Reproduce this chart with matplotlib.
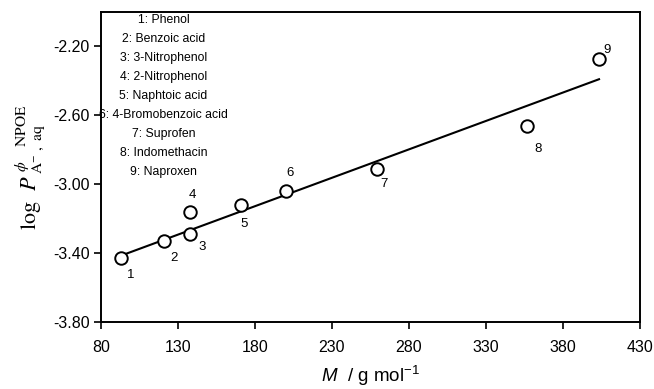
import matplotlib
matplotlib.use("Agg")
import matplotlib.pyplot as plt

# Data
labels = ['1', '2', '3', '4', '5', '6', '7', '8', '9']
mass = [93.0, 120.9, 137.8, 137.8, 170.9, 200.1, 259.2, 356.6, 403.4]
logp = [-3.43, -3.33, -3.29, -3.16, -3.12, -3.04, -2.91, -2.66, -2.275]
fit_x = [95.6, 403.4]
fit_y = [-3.406, -2.39]
compounds = ['1: Phenol', '2: Benzoic acid', '3: 3-Nitrophenol', '4: 2-Nitrophenol',
             '5: Naphtoic acid', '6: 4-Bromobenzoic acid', '7: Suprofen',
             '8: Indomethacin', '9: Naproxen']
xticks = [80, 130, 180, 230, 280, 330, 380, 430]
yticks = [-3.80, -3.40, -3.00, -2.60, -2.20]

# label offsets in points (dx, dy)
offsets = [(7, -12), (7, -12), (9, -9), (2, 12), (2, -14), (3, 13), (5, -11), (8, -17), (6, 7)]

plt.rcParams['font.family'] = ['Liberation Sans', 'DejaVu Sans']
plt.rcParams['mathtext.fontset'] = 'custom'
plt.rcParams['mathtext.rm'] = 'Liberation Sans'
plt.rcParams['mathtext.it'] = 'Liberation Sans:italic'

fig = plt.figure(figsize=(6.54, 3.89), dpi=100)
ax = fig.add_axes([0.1544, 0.1722, 0.8242, 0.7968])

ax.plot(fit_x, fit_y, color='black', lw=1.5, zorder=2)
ax.plot(mass, logp, 'o', mfc='white', mec='black', mew=1.4, ms=9, zorder=3)
for lab, x, y, (dx, dy) in zip(labels, mass, logp, offsets):
    ax.annotate(lab, (x, y), xytext=(dx, dy), textcoords='offset points',
                ha='center', va='center', fontsize=9.5)

for i, c in enumerate(compounds):
    ax.text(0.116, 0.975 - i * 0.0615, c, transform=ax.transAxes, ha='center', va='center',
            fontsize=8.8)

ax.set_xlim(80, 430)
ax.set_ylim(-3.80, -2.0)
ax.set_xticks(xticks)
ax.set_yticks(yticks)
ax.set_xticklabels([str(t) for t in xticks])
ax.set_yticklabels(['%.2f' % t for t in yticks])
ax.tick_params(direction='out', length=5, width=1.2, labelsize=11.5, pad=3)
ax.tick_params(axis='x', pad=8)
for s in ax.spines.values():
    s.set_linewidth(1.4)

ax.set_xlabel(r'$\mathit{M}$  / g mol$^{\mathrm{-1}}$', fontsize=13.5, labelpad=6,
              math_fontfamily='custom')
ax.set_ylabel(r'$\mathrm{log}\ \ P^{\ \phi\ \ \ \ \mathrm{NPOE}}_{\ \mathrm{A}^{-}\ ,\ \mathrm{aq}}$',
              fontsize=16, labelpad=4, math_fontfamily='stix')

fig.savefig('out.png', dpi=100)
